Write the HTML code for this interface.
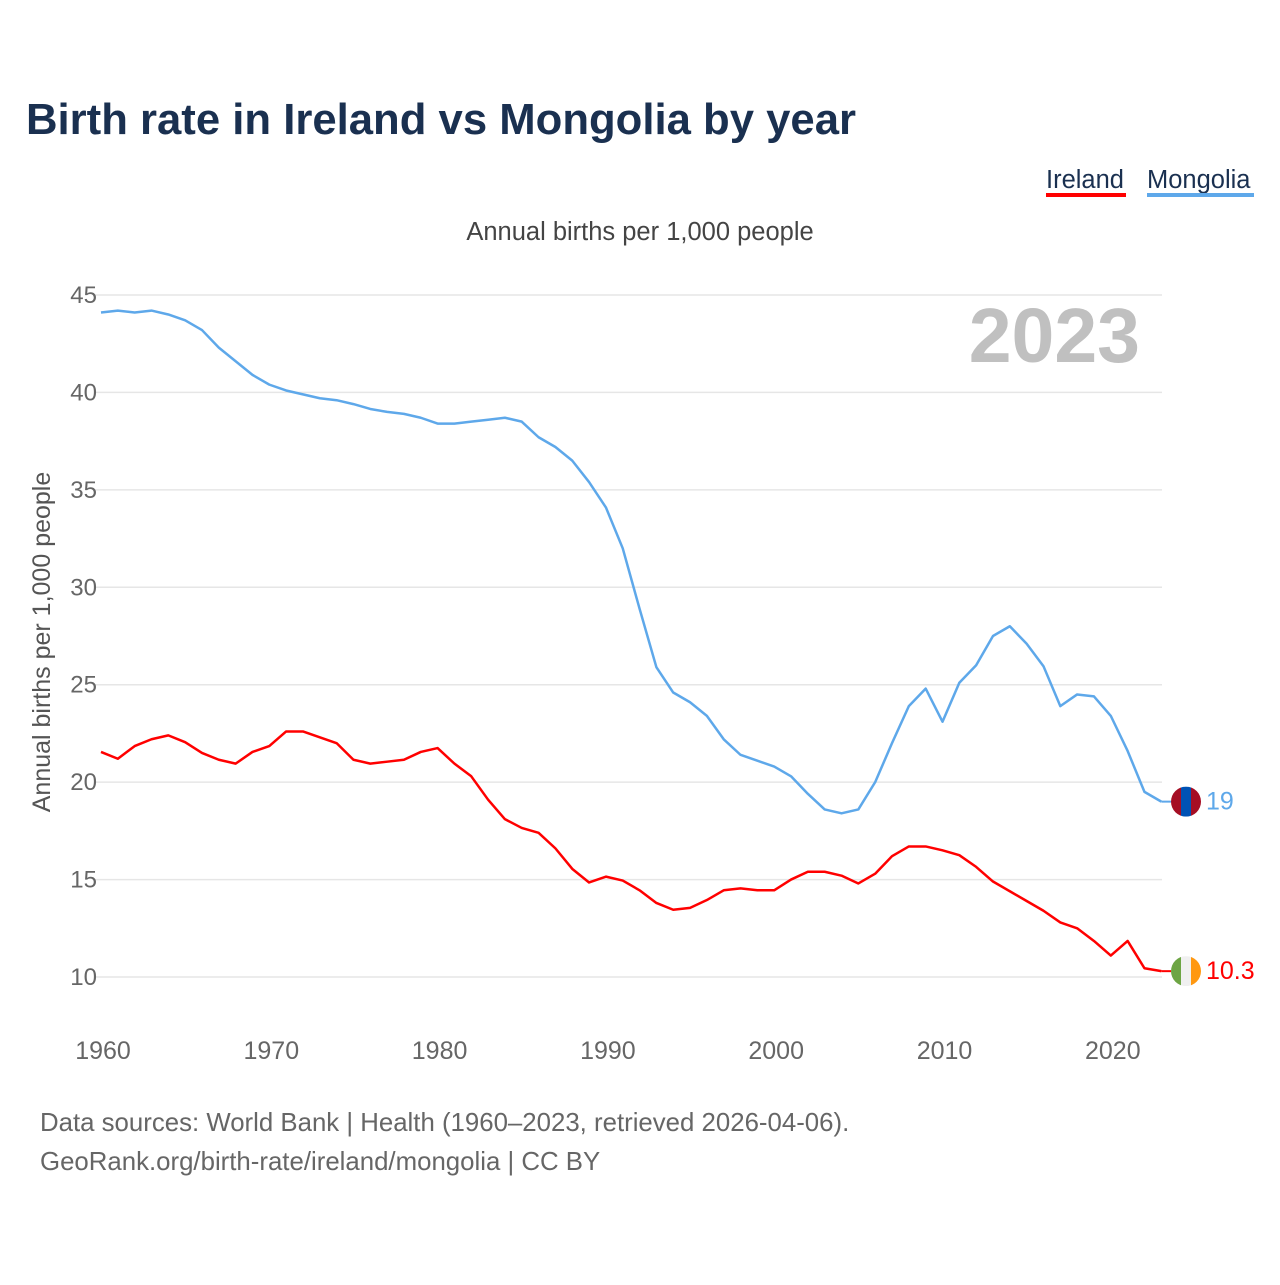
<!DOCTYPE html>
<html><head><meta charset="utf-8"><style>
body{margin:0;background:#fff;width:1280px;height:1280px;overflow:hidden;font-family:"Liberation Sans",sans-serif}
</style></head><body>
<svg id="chart" width="1280" height="1280" xmlns="http://www.w3.org/2000/svg" font-family="Liberation Sans, sans-serif">
<text x="26" y="134" font-size="44" font-weight="bold" fill="#1a3050" textLength="830" lengthAdjust="spacingAndGlyphs">Birth rate in Ireland vs Mongolia by year</text>
<g><text x="1046" y="188" font-size="25.5" fill="#1a3050">Ireland</text><rect x="1046" y="193" width="80" height="4" fill="#ff0000"/></g>
<g><text x="1147" y="188" font-size="25.5" fill="#1a3050">Mongolia</text><rect x="1147" y="193" width="107" height="4" fill="#5ea8ea"/></g>
<text x="640" y="240" text-anchor="middle" font-size="25.5" fill="#444">Annual births per 1,000 people</text>
<text x="1140" y="362" text-anchor="end" font-size="77" font-weight="bold" fill="#c0c0c0">2023</text>
<text transform="translate(50,642) rotate(-90)" text-anchor="middle" font-size="25" fill="#555">Annual births per 1,000 people</text>
<g id="grid"></g><g id="lines"></g>
<text x="40" y="1131" font-size="25.8" fill="#666">Data sources: World Bank | Health (1960–2023, retrieved 2026-04-06).</text>
<text x="40" y="1170" font-size="25.8" fill="#666">GeoRank.org/birth-rate/ireland/mongolia | CC BY</text>
</svg>
<script>
const years=[];for(let y=1960;y<=2023;y++)years.push(y);
const yTicks=[10,15,20,25,30,35,40,45];
const xTicks=[1960,1970,1980,1990,2000,2010,2020];
const mongolia=[44.1,44.2,44.1,44.2,44.0,43.7,43.2,42.3,41.6,40.9,40.4,40.1,39.9,39.7,39.6,39.4,39.15,39.0,38.9,38.7,38.4,38.4,38.5,38.6,38.7,38.5,37.7,37.2,36.5,35.4,34.1,32.0,28.9,25.9,24.6,24.1,23.4,22.2,21.4,21.1,20.8,20.3,19.4,18.6,18.4,18.6,20.0,22.0,23.9,24.8,23.1,25.1,26.0,27.5,28.0,27.1,25.95,23.9,24.5,24.4,23.4,21.6,19.5,19.0];
const ireland=[21.55,21.2,21.85,22.2,22.4,22.05,21.5,21.15,20.95,21.55,21.85,22.6,22.6,22.3,22.0,21.15,20.95,21.05,21.15,21.55,21.75,20.95,20.3,19.1,18.1,17.65,17.4,16.6,15.55,14.85,15.15,14.95,14.45,13.8,13.45,13.55,13.95,14.45,14.55,14.45,14.45,15.0,15.4,15.4,15.2,14.8,15.3,16.2,16.7,16.7,16.5,16.25,15.65,14.9,14.4,13.9,13.4,12.8,12.5,11.85,11.1,11.85,10.45,10.3];
const labels=["19","10.3"];
const NS="http://www.w3.org/2000/svg";
const X=v=>101+(v-1960)*16.83;
const Y=v=>977-(v-10)*19.486;
const grid=document.getElementById('grid'),lines=document.getElementById('lines');
function mk(t,a,p){const e=document.createElementNS(NS,t);for(const k in a)e.setAttribute(k,a[k]);p.appendChild(e);return e;}
yTicks.forEach(t=>{
 const l=mk('line',{x1:95,x2:1162,y1:Y(t),y2:Y(t),stroke:'#e6e6e6','stroke-width':1.5},grid);
 
 
 const tx=mk('text',{x:97,y:Y(t)+8,'text-anchor':'end','font-size':24,fill:'#666'},grid);tx.textContent=t;
 
 
});
xTicks.forEach(t=>{
 const tx=mk('text',{x:X(t)+2,y:1059,'text-anchor':'middle','font-size':25,fill:'#666'},grid);tx.textContent=t;
 
 
});
function series(d,c,name){
 const p=mk('polyline',{points:d.map((v,i)=>X(years[i])+','+Y(v)).join(' '),fill:'none',stroke:c,'stroke-width':2.5,'stroke-linejoin':'round'},lines);
 
 
}
series(mongolia,'#5ea8ea','mongolia');
series(ireland,'#ff0000','ireland');
const mY=Y(mongolia[mongolia.length-1]),iY=Y(ireland[ireland.length-1]);
const cx=1186;
function flag(y,cols,name){
 const g=mk('g',{},lines);
 
 
 const cid='c'+name;mk('clipPath',{id:cid},g);
 mk('circle',{cx:cx,cy:y,r:15},g.lastChild);
 const gg=mk('g',{'clip-path':'url(#'+cid+')'},g);
 cols.forEach((c,i)=>mk('rect',{x:cx-15+i*10,y:y-15,width:10,height:30,fill:c},gg));
}
mk('line',{x1:X(2023),x2:cx-15,y1:mY,y2:mY,stroke:'#5ea8ea','stroke-width':2},lines);
mk('line',{x1:X(2023),x2:cx-15,y1:iY,y2:iY,stroke:'#ff0000','stroke-width':2},lines);
flag(mY,['#a50e24','#0052b4','#a50e24'],'mongolia');
flag(iY,['#6da544','#f0f0f0','#ff9811'],'ireland');
let t=mk('text',{x:1206,y:mY+8,'font-size':25,fill:'#5ea8ea'},lines);t.textContent=labels[0];


t=mk('text',{x:1206,y:iY+8,'font-size':25,fill:'#ff0000'},lines);t.textContent=labels[1];


</script>
</body></html>
